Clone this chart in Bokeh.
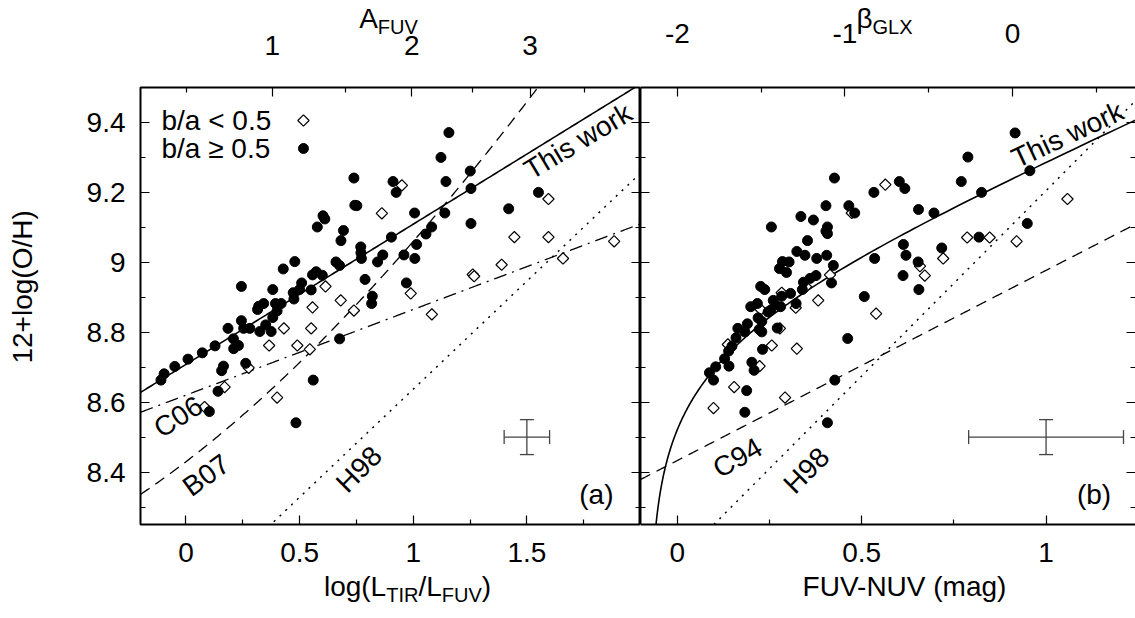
import numpy as np
from bokeh.plotting import figure
from bokeh.models import (LinearAxis, FixedTicker, Label, Whisker, TeeHead,
                          ColumnDataSource, CustomJSTickFormatter, Range1d)
from bokeh.layouts import row, column
from bokeh.embed import file_html
from bokeh.resources import INLINE

FONT = "Liberation Sans"
FS = "28px"
SUB = 20

# ---------------- data: panel (a)  x = log(L_TIR/L_FUV), y = 12+log(O/H)
a_circ_x = [-0.110, -0.096, -0.049, 0.009, 0.072, 0.128, 0.141, 0.103, 0.157, 0.165,
            0.185, 0.209, 0.210, 0.231, 0.244, 0.244, 0.254, 0.263, 0.281, 0.315,
            0.320, 0.342, 0.325, 0.351, 0.375, 0.382, 0.382, 0.394, 0.401, 0.419,
            0.428, 0.472, 0.479, 0.475, 0.484, 0.509, 0.500, 0.551, 0.557, 0.573,
            0.560, 0.600, 0.578, 0.603, 0.611, 0.660, 0.676, 0.682, 0.693, 0.676,
            0.739, 0.743, 0.752, 0.769, 0.770, 0.772, 0.788, 0.820, 0.817, 0.843,
            0.866, 0.904, 0.911, 0.925, 0.959, 0.970, 1.006, 1.015, 1.007, 1.056,
            1.081, 1.122, 1.139, 1.144, 1.157, 1.251, 1.254, 1.254, 1.420, 1.551]
a_circ_y = [8.663, 8.681, 8.702, 8.723, 8.741, 8.761, 8.631, 8.573, 8.690, 8.703,
            8.811, 8.781, 8.753, 8.762, 8.931, 8.833, 8.811, 8.711, 8.811, 8.865,
            8.874, 8.882, 8.802, 8.821, 8.802, 8.922, 8.842, 8.882, 8.861, 8.882,
            8.981, 8.913, 9.002, 8.895, 8.541, 8.941, 8.922, 8.921, 8.964, 8.973,
            8.663, 8.963, 9.101, 9.133, 9.124, 9.001, 8.991, 9.062, 9.091, 8.781,
            9.241, 9.163, 9.162, 9.044, 9.027, 9.011, 8.951, 8.903, 8.882, 9.001,
            9.021, 9.072, 9.231, 9.200, 9.021, 8.941, 9.141, 9.051, 9.011, 9.081,
            9.101, 9.300, 9.141, 9.231, 9.371, 9.261, 9.211, 9.111, 9.153, 9.200]
a_diam_x = [0.950, 0.862, 0.614, 0.681, 0.557, 0.739, 0.989, 1.082, 0.431, 0.551,
            0.366, 0.490, 0.545, 0.276, 0.170, 0.401, 0.082, 1.595, 1.445, 1.595,
            1.389, 1.659, 1.884, 1.262, 1.268]
a_diam_y = [9.220, 9.140, 8.931, 8.891, 8.871, 8.862, 8.911, 8.851, 8.811, 8.811,
            8.762, 8.762, 8.751, 8.698, 8.643, 8.613, 8.586, 9.181, 9.072, 9.072,
            8.993, 9.011, 9.060, 8.965, 8.960]

# ---------------- data: panel (b)  x = FUV-NUV (mag)
b_circ_x = [0.426, 0.602, 0.617, 0.533, 0.403, 0.465, 0.481, 0.654, 0.335, 0.369,
            0.255, 0.407, 0.403, 0.407, 0.353, 0.324, 0.346, 0.378, 0.405, 0.423,
            0.285, 0.303, 0.277, 0.296, 0.376, 0.360, 0.342, 0.339, 0.418, 0.535,
            0.613, 0.620, 0.653, 0.612, 0.655, 0.507, 0.462, 0.427, 0.407, 0.226,
            0.237, 0.307, 0.322, 0.283, 0.260, 0.265, 0.280, 0.217, 0.199, 0.253,
            0.246, 0.219, 0.229, 0.190, 0.164, 0.183, 0.222, 0.229, 0.271, 0.159,
            0.148, 0.139, 0.128, 0.104, 0.087, 0.098, 0.140, 0.231, 0.202, 0.208,
            0.188, 0.183, 0.916, 0.788, 0.770, 0.956, 0.825, 0.696, 0.717, 0.818,
            0.949]
b_circ_y = [9.241, 9.231, 9.211, 9.200, 9.162, 9.162, 9.141, 9.151, 9.131, 9.121,
            9.101, 9.101, 9.089, 9.082, 9.062, 9.031, 9.020, 9.011, 9.020, 8.991,
            9.002, 9.001, 8.982, 8.971, 8.962, 8.954, 8.943, 8.922, 8.941, 9.011,
            9.051, 9.020, 9.001, 8.962, 8.922, 8.902, 8.782, 8.663, 8.541, 8.931,
            8.922, 8.911, 8.882, 8.903, 8.891, 8.878, 8.873, 8.882, 8.873, 8.863,
            8.858, 8.841, 8.831, 8.824, 8.811, 8.801, 8.808, 8.801, 8.812, 8.784,
            8.760, 8.746, 8.724, 8.701, 8.684, 8.663, 8.703, 8.751, 8.714, 8.691,
            8.633, 8.571, 9.370, 9.301, 9.231, 9.262, 9.200, 9.141, 9.041, 9.072,
            9.111]
b_diam_x = [0.564, 0.473, 0.414, 0.382, 0.321, 0.283, 0.349, 0.226, 0.539, 0.278,
            0.256, 0.324, 0.223, 0.154, 0.292, 0.098, 0.137, 0.786, 0.847, 0.920,
            1.058, 0.721, 0.658, 0.671]
b_diam_y = [9.222, 9.141, 8.964, 8.891, 8.870, 8.913, 8.930, 8.865, 8.853, 8.811,
            8.762, 8.753, 8.703, 8.643, 8.613, 8.583, 8.765, 9.071, 9.071, 9.060,
            9.181, 9.011, 8.989, 8.962]

# ---------------- model relations (coefficients)
buat_poly = [-0.0333, 0.3522, 1.1960, 0.4967]     # A_FUV(log(L_TIR/L_FUV))
tw_a = [8.708, 0.401]                              # This work (a)
b07 = [8.223, 0.416]                               # B07: vs A_FUV
h98_a = [8.019, 0.618]                             # H98 (a)
c06 = [8.62, 0.245]                                # C06
c94 = [8.433, 0.544]                               # C94 (b)
h98_b = [8.145, 1.06]                              # H98 (b)
tw_b = [8.708, 0.401, 1.2, -0.075, 0.173]          # This work (b)
beta_slope, beta_zero = 2.2, -2.0                  # beta_GLX = slope*(FUV-NUV)+zero

# error bars
err_a = dict(x=[1.5], y=[8.5], dx=[0.1], dy=[0.05])
err_b = dict(x=[1.0], y=[8.5], dx=[0.21], dy=[0.05])

# ticks
a_bottom_ticks = [0, 0.5, 1, 1.5]
a_bottom_minor = [0.25, 0.75, 1.25, 1.75]
b_bottom_ticks = [0, 0.5, 1]
b_bottom_minor = [0.25, 0.75]
y_ticks = [8.4, 8.6, 8.8, 9.0, 9.2, 9.4]
y_minor = [8.3, 8.5, 8.7, 8.9, 9.1, 9.3, 9.5]
afuv_major = [1, 2, 3]
afuv_minor = [0.5, 1.5, 2.5, 3.5]
beta_major = [-2, -1, 0]
beta_minor = [-1.5, -0.5, 0.5]

# ---------------- geometry (page px; the page has no margin)
WTOT, HTOT = 1135, 618
LEFT_W = 48
P1L, P1R, P2L, P2R = 140, 640, 640, 1135
TOP, BOT = 87, 524
MID_TOP, MID_BOT = 86, 566
B_SCALE = 368.7
xr1 = (-0.2, 2.0)
xr2 = (-0.1, -0.1 + (P2R - P2L) / B_SCALE)
yr = (8.25, 9.5)


def px1(L):
    return P1L + (L - xr1[0]) * (P1R - P1L) / (xr1[1] - xr1[0])


def px2(c):
    return P2L + (c - xr2[0]) * (P2R - P2L) / (xr2[1] - xr2[0])


def A_of_L(L):
    return np.polyval(buat_poly, L)


Lgrid = np.linspace(-1, 3.5, 40001)
Agrid = A_of_L(Lgrid)
afuv_major_pos = list(np.interp(afuv_major, Agrid, Lgrid))
afuv_minor_pos = list(np.interp(afuv_minor, Agrid, Lgrid))
beta_major_pos = [(b - beta_zero) / beta_slope for b in beta_major]
beta_minor_pos = [(b - beta_zero) / beta_slope for b in beta_minor]


def style_axis(ax, ticks, minor, fmt, standoff, line=False, hidden=False):
    ax.ticker = FixedTicker(ticks=ticks, minor_ticks=minor)
    ax.major_tick_in = 9
    ax.major_tick_out = 0
    ax.minor_tick_in = 5
    ax.minor_tick_out = 0
    ax.major_tick_line_color = "black"
    ax.minor_tick_line_color = "black"
    ax.major_tick_line_width = 1.2
    ax.minor_tick_line_width = 1.2
    ax.axis_line_color = "black" if line else None
    ax.axis_line_width = 2
    ax.major_label_text_font = FONT
    ax.major_label_text_font_size = "0px" if hidden else FS
    ax.major_label_text_color = "black"
    ax.major_label_standoff = standoff
    ax.formatter = fmt
    ax.axis_label = None


def tostr():
    return CustomJSTickFormatter(code="return tick.toString();")


def empty():
    return CustomJSTickFormatter(code="return '';")


WIDTHS = {'A': 667, 'F': 611, 'U': 722, 'V': 667, 'G': 778, 'L': 556, 'X': 667,
          'l': 222, 'o': 556, 'g': 556, '(': 333, ')': 333, 'T': 611, 'I': 278,
          'R': 722, '/': 278, 'β': 575}


def twidth(t, size):
    return sum(WIDTHS.get(c, 556) for c in t) * size / 1000.0


def rich(p, parts, center_px, mid_py):
    # parts: (text, size, vertical shift of the part's middle in px)
    total = sum(twidth(t, s) for t, s, d in parts)
    x = center_px - total / 2.0
    for t, s, d in parts:
        p.add_layout(Label(x=x, y=mid_py + d, text=t, text_font=FONT,
                           text_font_size=f"{s}px", text_align="left",
                           text_baseline="middle", text_color="black"))
        x += twidth(t, s)


def lab(p, x, y, text, angle=0, align="center", baseline="middle"):
    p.add_layout(Label(x=x, y=y, text=text, angle=angle, angle_units="deg",
                       text_font=FONT, text_font_size=FS, text_align=align,
                       text_baseline=baseline, text_color="black"))


def errbar(p, e):
    src = ColumnDataSource(dict(x=e["x"], y=e["y"],
                                xl=[a - b for a, b in zip(e["x"], e["dx"])],
                                xu=[a + b for a, b in zip(e["x"], e["dx"])],
                                yl=[a - b for a, b in zip(e["y"], e["dy"])],
                                yu=[a + b for a, b in zip(e["y"], e["dy"])]))
    col = "#444444"
    for base, lo, up, dim in (("y", "xl", "xu", "width"), ("x", "yl", "yu", "height")):
        p.add_layout(Whisker(source=src, base=base, lower=lo, upper=up, dimension=dim,
                             line_color=col, line_width=1.3,
                             upper_head=TeeHead(size=14, line_color=col, line_width=1.3),
                             lower_head=TeeHead(size=14, line_color=col, line_width=1.3)))


def points(p, cx, cy, dx, dy):
    p.scatter(dx, dy, marker="square", angle=np.pi / 4, size=8, fill_color="white",
              line_color="black", line_width=1.2)
    p.scatter(cx, cy, marker="circle", size=10, fill_color="black", line_color="black")


def strip(w, h, xr, yrng):
    s = figure(width=w, height=h, x_range=Range1d(*xr), y_range=Range1d(*yrng),
               x_axis_type=None, y_axis_type=None, min_border=0,
               min_border_left=0, min_border_right=0, min_border_top=0, min_border_bottom=0,
               output_backend="svg", toolbar_location=None)
    s.outline_line_color = None
    s.background_fill_color = None
    s.border_fill_color = None
    return s


# ================= panel (a)
p1 = figure(width=P1R - LEFT_W, height=MID_BOT - MID_TOP, x_range=Range1d(*xr1),
            y_range=Range1d(*yr), min_border_left=P1L - LEFT_W, min_border_right=0,
            min_border_top=TOP - MID_TOP, min_border_bottom=MID_BOT - BOT,
            output_backend="svg", toolbar_location=None)
p1.grid.visible = False
p1.outline_line_color = "black"
p1.outline_line_width = 2
p1.background_fill_color = None
p1.border_fill_color = None

style_axis(p1.xaxis[0], a_bottom_ticks, a_bottom_minor, tostr(), 18)
style_axis(p1.yaxis[0], y_ticks, y_minor, tostr(), 15)
top1 = LinearAxis()
style_axis(top1, afuv_major_pos, afuv_minor_pos, empty(), 0, hidden=True)
p1.add_layout(top1, "above")
right1 = LinearAxis()
style_axis(right1, y_ticks, y_minor, empty(), 0, hidden=True)
p1.add_layout(right1, "right")

Lx = np.linspace(xr1[0], xr1[1], 300)
p1.line(Lx, np.polyval(h98_a[::-1], Lx), line_color="black", line_width=1.5, line_dash="2 6")
p1.line(Lx, np.polyval(c06[::-1], Lx), line_color="black", line_width=1.3, line_dash="13 6 2 6")
p1.line(Lx, b07[0] + b07[1] * A_of_L(Lx), line_color="black", line_width=1.3, line_dash="11 7")
p1.line(Lx, np.polyval(tw_a[::-1], Lx), line_color="black", line_width=1.6)
errbar(p1, err_a)
points(p1, a_circ_x, a_circ_y, a_diam_x, a_diam_y)

# legend (top-left of panel a)
leg_text_x = -0.1076
leg_marker_x = [0.517]
leg_y = [9.4056, 9.3255]
p1.scatter(leg_marker_x, leg_y[:1], marker="square", angle=np.pi / 4, size=8,
           fill_color="white", line_color="black", line_width=1.2)
p1.scatter(leg_marker_x, leg_y[1:], marker="circle", size=10, color="black")
lab(p1, leg_text_x, leg_y[0], "b/a < 0.5", align="left")
lab(p1, leg_text_x, leg_y[1], "b/a ≥ 0.5", align="left")

lab(p1, 1.725, 9.346, "This work", 31)
lab(p1, -0.034, 8.558, "C06", 33)
lab(p1, 0.089, 8.391, "B07", 36)
lab(p1, 0.761, 8.408, "H98", 45)
lab(p1, 1.806, 8.336, "(a)")

# ================= panel (b)
p2 = figure(width=P2R - P2L, height=MID_BOT - MID_TOP, x_range=Range1d(*xr2),
            y_range=Range1d(*yr), min_border_left=0, min_border_right=0,
            min_border_top=TOP - MID_TOP, min_border_bottom=MID_BOT - BOT,
            output_backend="svg", toolbar_location=None)
p2.grid.visible = False
p2.outline_line_color = None
p2.background_fill_color = None
p2.border_fill_color = None

style_axis(p2.xaxis[0], b_bottom_ticks, b_bottom_minor, tostr(), 18, line=True)
style_axis(p2.yaxis[0], y_ticks, y_minor, empty(), 0, line=True, hidden=True)
top2 = LinearAxis()
style_axis(top2, beta_major_pos, beta_minor_pos, empty(), 0, line=True, hidden=True)
p2.add_layout(top2, "above")
right2 = LinearAxis()
style_axis(right2, y_ticks, y_minor, empty(), 0, hidden=True)
p2.add_layout(right2, "right")

cx = np.linspace(xr2[0], xr2[1], 300)
p2.line(cx, np.polyval(h98_b[::-1], cx), line_color="black", line_width=1.5, line_dash="2 6")
p2.line(cx, np.polyval(c94[::-1], cx), line_color="black", line_width=1.3, line_dash="11 7")
cc = tw_b[3] + np.geomspace(1e-4, xr2[1] - tw_b[3], 500)
Lc = np.log10(10 ** (tw_b[2] * (cc - tw_b[3])) - 1) + tw_b[4]
p2.line(cc, tw_b[0] + tw_b[1] * Lc, line_color="black", line_width=1.6)
errbar(p2, err_b)
points(p2, b_circ_x, b_circ_y, b_diam_x, b_diam_y)

lab(p2, 1.058, 9.365, "This work", 25)
lab(p2, 0.163, 8.441, "C94", 30)
lab(p2, 0.35, 8.405, "H98", 45)
lab(p2, 1.13, 8.336, "(b)")

# ================= text strips around the panels
top = strip(WTOT, MID_TOP, (0, WTOT), (MID_TOP, 0))
for pos, t in zip(afuv_major_pos, afuv_major):
    lab(top, px1(pos), 45, str(t))
for pos, t in zip(beta_major_pos, beta_major):
    lab(top, px2(pos), 33, str(t))
rich(top, [("A", 28, 0), ("FUV", SUB, 8)], 388, 18)
rich(top, [("β", 28, 0), ("GLX", SUB, 8)], 884, 18)

left = strip(LEFT_W, MID_BOT - MID_TOP, (0, LEFT_W), (MID_BOT, MID_TOP))
lab(left, 22, 305, "12+log(O/H)", 90)

bottom = strip(WTOT, HTOT - MID_BOT, (0, WTOT), (HTOT, MID_BOT))
rich(bottom, [("log(L", 28, 0), ("TIR", SUB, 8), ("/L", 28, 0), ("FUV", SUB, 8), (")", 28, 0)],
     407, 586)
lab(bottom, 904, 586, "FUV-NUV (mag)")

layout = column(top, row(left, p1, p2), bottom)
open("out.html", "w").write(file_html(layout, INLINE))
